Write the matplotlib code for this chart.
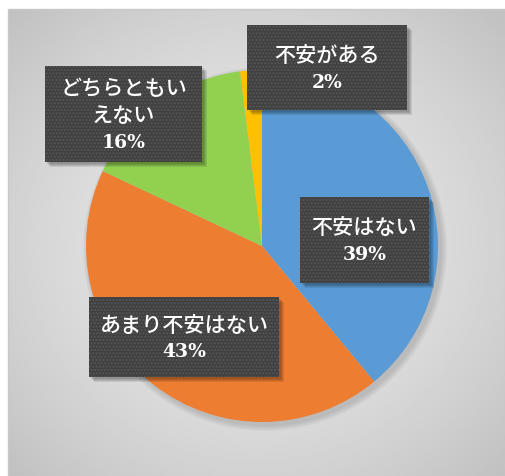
import numpy as np
import matplotlib.pyplot as plt
from matplotlib.patches import Rectangle

labels = ['不安はない', 'あまり不安はない', 'どちらともいえない', '不安がある']
values = [39, 43, 16, 2]
colors = ['#5B9BD5', '#ED7D31', '#92D050', '#FFC000']
# label lines per slice (line breaks as in the chart)
name_lines = [['不安はない'], ['あまり不安はない'], ['どちらともい', 'えない'], ['不安がある']]
# boxes in pixel coords: x0, y0(top), x1, y1(bottom)
boxes = [(300, 198, 429, 284), (89, 298, 279, 378), (45, 67, 202, 163), (247, 26, 407, 111)]

W, H = 505, 477
fig = plt.figure(figsize=(W / 100, H / 100), dpi=100)
ax = fig.add_axes([0, 0, 1, 1])

def py(y):
    return H - y

# background: radial gradient frame
gx, gy = np.meshgrid(np.linspace(-1, 1, 200), np.linspace(-1, 1, 200))
rr = np.sqrt(gx ** 2 + gy ** 2) / np.sqrt(2)
bg = 0.915 - 0.16 * rr ** 1.6
ax.imshow(bg, cmap='gray', vmin=0, vmax=1, extent=(8, W, py(477), py(10)), zorder=0, interpolation='bilinear')
ax.add_patch(Rectangle((8, py(477)), W - 8, 467, fill=False, edgecolor='#c8c8c8', lw=1, zorder=1))

cx, cy, r = 262, py(247), 176

# soft pie shadow
for i in range(6):
    c = plt.Circle((cx + 3, cy - 3), r + 6 - i, color='#000000', alpha=0.025, lw=0, zorder=2)
    ax.add_patch(c)

ax.pie(values, colors=colors, startangle=90, counterclock=False, center=(cx, cy), radius=r,
       wedgeprops={'linewidth': 0, 'zorder': 3}, frame=True)
ax.set_xlim(0, W)
ax.set_ylim(0, H)
ax.set_aspect('equal')
ax.axis('off')

step = 27
for (x0, y0, x1, y1), lines, v in zip(boxes, name_lines, values):
    w, h = x1 - x0, y1 - y0
    for i in range(4):
        ax.add_patch(Rectangle((x0 + 2 + i, py(y1) - 2 - i), w, h, color='#000000', alpha=0.09, lw=0, zorder=4))
    ax.add_patch(Rectangle((x0, py(y1)), w, h, facecolor='#404040', edgecolor='#575757', hatch='.....',
                           lw=0, zorder=5))
    n = len(lines) + 1
    ymid = (y0 + y1) / 2 + 1
    xm = (x0 + x1) / 2
    for k, s in enumerate(lines):
        yy = ymid + (k - (n - 1) / 2) * step
        ax.text(xm, py(yy), s, ha='center', va='center', color='white', fontsize=15.2,
                fontweight='medium', family=['Noto Sans CJK JP'], zorder=6)
    yy = ymid + ((n - 1) - (n - 1) / 2) * step
    ax.text(xm, py(yy), f'{v}%', ha='center', va='center', color='white', fontsize=13.5,
            fontweight='bold', family=['DejaVu Serif'], zorder=6)

fig.savefig('out.png', dpi=100)
